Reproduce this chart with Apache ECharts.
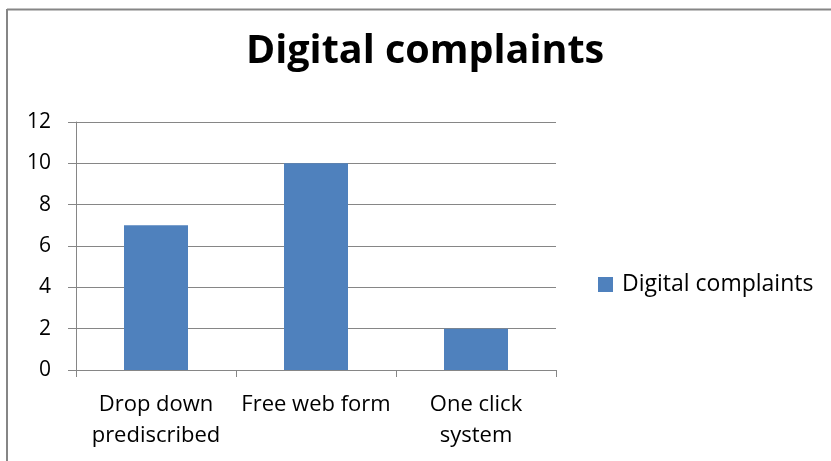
<!DOCTYPE html>
<html>
<head>
<meta charset="utf-8">
<script src="https://cdn.jsdelivr.net/npm/echarts@6/dist/echarts.min.js"></script>
<style>
  html, body { margin: 0; padding: 0; background: #fff; }
  #chart { width: 831px; height: 461px; }
</style>
</head>
<body>
<div id="chart"></div>
<script>
// Chart data
const categories = ['Drop down\nprediscribed', 'Free web form', 'One click\nsystem'];
const seriesName = 'Digital complaints';
const values = [7, 10, 2];
const yTicks = { min: 0, max: 12, interval: 2 };

const FONT = '"Open Sans", Lato, sans-serif';
const GRAY = '#868686';

const chart = echarts.init(document.getElementById('chart'), null, { renderer: 'canvas' });

chart.setOption({
  backgroundColor: '#ffffff',
  animation: false,
  title: {
    text: 'Digital complaints',
    left: 241,
    top: 27,
    textStyle: { fontFamily: FONT, fontSize: 39.5, fontWeight: 'bold', color: '#000' }
  },
  legend: {
    data: [seriesName],
    orient: 'vertical',
    left: 593,
    top: 268,
    itemWidth: 15,
    itemHeight: 15,
    itemGap: 6,
    icon: 'rect',
    textStyle: { fontFamily: FONT, fontSize: 23, color: '#000', padding: [0, 0, 0, 4] }
  },
  grid: { left: 76, right: 275, top: 122, bottom: 91, containLabel: false },
  xAxis: {
    type: 'category',
    data: categories,
    boundaryGap: true,
    axisLine: { show: true, lineStyle: { color: GRAY, width: 1 } },
    axisTick: { show: true, length: 7, alignWithLabel: false, lineStyle: { color: GRAY } },
    axisLabel: {
      fontFamily: FONT, fontSize: 22, color: '#000', margin: 19, lineHeight: 31, interval: 0
    },
    splitLine: { show: false }
  },
  yAxis: {
    type: 'value',
    min: yTicks.min,
    max: yTicks.max,
    interval: yTicks.interval,
    axisLine: { show: true, lineStyle: { color: GRAY, width: 1 } },
    axisTick: { show: true, length: 8, lineStyle: { color: GRAY } },
    axisLabel: { fontFamily: FONT, fontSize: 21, color: '#000', margin: 25 },
    splitLine: { show: true, lineStyle: { color: GRAY, width: 1 } }
  },
  series: [{
    name: seriesName,
    type: 'bar',
    data: values,
    barWidth: '40%',
    itemStyle: { color: '#4f81bd' }
  }],
  graphic: [
    { type: 'line', shape: { x1: 7, y1: 9.5, x2: 831, y2: 9.5 }, style: { stroke: GRAY, lineWidth: 2 } },
    { type: 'line', shape: { x1: 7, y1: 9, x2: 7, y2: 461 }, style: { stroke: GRAY, lineWidth: 2 } }
  ]
});
</script>
</body>
</html>
